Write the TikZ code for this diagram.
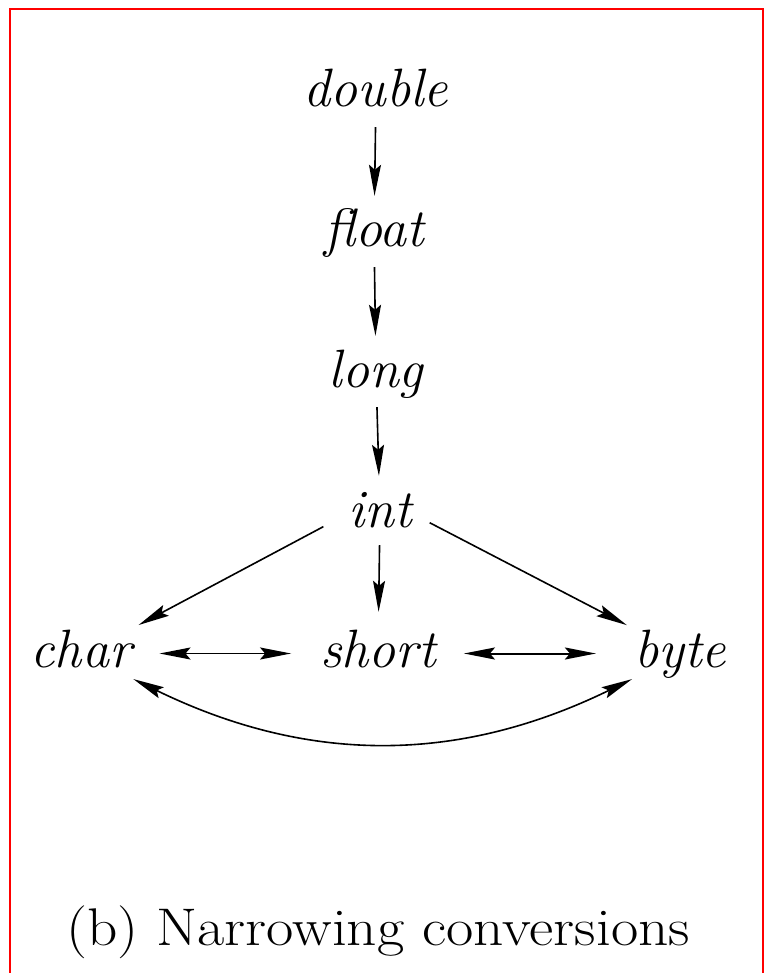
\documentclass[tikz,border=0pt]{standalone}
\usetikzlibrary{arrows.meta}
\begin{document}
\begin{tikzpicture}[x=1pt,y=-1pt,
  type/.style={font=\fontsize{54}{60}\selectfont\itshape, inner sep=0pt,
    text height=38pt, text depth=11pt, anchor=base},
  conv/.style={line width=1.6pt, -{Stealth[length=31pt,width=12pt,inset=5pt]}},
  both/.style={line width=1.6pt, {Stealth[length=31pt,width=12pt,inset=5pt]}-{Stealth[length=31pt,width=12pt,inset=5pt]}},
  down/.style={conv, shorten <=9pt, shorten >=13pt}
]
\useasboundingbox (0,0) rectangle (767,973);
% frame
\draw[red, line width=2pt] (10,9) rectangle (763,1000);

% primitive types
\node[type] (double) at (376,107) {double};
\node[type] (float)  at (374,247) {float};
\node[type] (long)   at (376,387) {long};
\node[type] (int)    at (380,527) {int};
\node[type] (char)   at (81,667)  {char};
\node[type] (short)  at (378,667) {short};
\node[type] (byte)   at (680,667) {byte};

% narrowing chain
\draw[down] (double) -- (float);
\draw[down] (float) -- (long);
\draw[down] (long) -- (int);
\draw[conv, shorten <=7pt, shorten >=17pt] (int) -- (short);
\draw[conv, shorten <=28pt, shorten >=8pt] (int.west) -- (char.north east);
\draw[conv, shorten <=20pt, shorten >=8pt] (int.east) -- (byte.north west);

% mutual conversions
\draw[both, shorten <=28pt, shorten >=29pt] (char) -- (short);
\draw[both, line width=2pt, shorten <=28pt, shorten >=38pt] (short) -- (byte);
\draw[both, shorten <=2pt, shorten >=2pt] (char.south east) to[bend right=26] (byte.south west);

% caption
\node[font=\fontsize{53}{60}\selectfont\rmfamily\upshape, inner sep=0pt, anchor=base]
  (caption) at (378,945) {\scalebox{1.12}[1]{(b) Narrowing conversions}};
\end{tikzpicture}
\end{document}
